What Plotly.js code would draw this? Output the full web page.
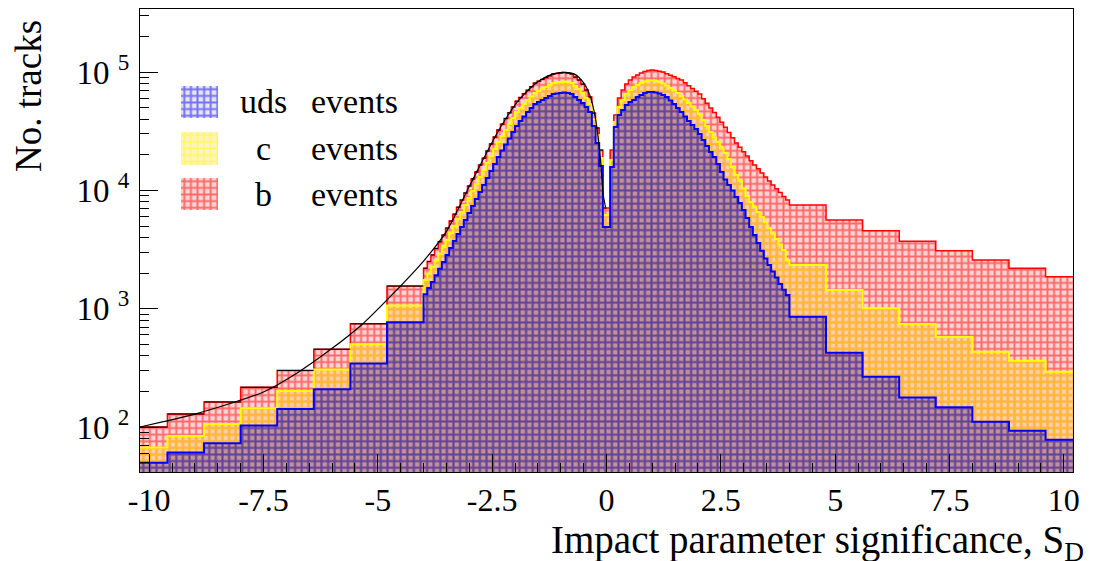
<!DOCTYPE html>
<html><head><meta charset="utf-8">
<script src="https://cdn.plot.ly/plotly-3.0.1.min.js"></script>
<style>html,body{margin:0;padding:0;background:#fff;}#chart{width:1099px;height:561px;}</style>
</head><body><div id="chart"></div>
<script>
// ---- binning (impact parameter significance S_D) ----
const coarseEdgesLeft = [-10.2, -9.6, -8.8, -8.0, -7.2, -6.4, -5.6, -4.8, -4.0];
const fineBinWidth = 0.08;
const fineBinCount = 100;           // fine bins from -4 to 4
const coarseEdgesRight = [4.0, 4.8, 5.6, 6.4, 7.2, 8.0, 8.8, 9.6, 10.2];

// ---- stacked levels (tracks per bin): uds, uds+c, uds+c+b ----
const udsLeft   = [50, 61, 73, 103, 142, 209, 345, 770];
const udsCLeft  = [67, 84, 106, 144, 202, 307, 502, 1066];
const allLeft   = [100, 129, 163, 217, 301, 455, 745, 1553];

const udsFine = [1328,1493,1685,1916,2178,2477,2838,3253,3727,4272,
  4896,5609,6428,7366,8441,9674,11090,12700,14560,16690,
  19120,21700,24390,27410,31110,34960,38530,42050,45910,49630,
  53640,55770,57990,60290,62690,65160,65810,66440,67090,66440,
  65160,61480,57990,54700,50600,45910,34960,25110,16050,4896,
  4896,15740,34290,43300,47730,52600,55770,57990,61480,63900,
  66440,67760,67760,67090,65810,63900,61480,57420,53640,49630,
  45910,42050,38530,35650,32980,29920,26620,23680,21070,19120,
  16750,14280,12340,11090,9960,8775,7810,6815,5833,4896,
  4189,3585,3086,2652,2336,2059,1832,1614,1444,1303];
const udsCFine = [1745,1984,2256,2566,2917,3317,3800,4355,4991,5720,
  6554,7510,8605,9865,11300,12950,14840,17010,19490,22340,
  25600,28770,32340,36340,40860,45910,49630,53640,57990,62080,
  66440,69080,71820,74670,77640,80720,81510,82320,83120,82320,
  80720,76150,71820,66440,60290,53640,40070,29340,18750,6183,
  6183,18040,37780,50600,57990,65160,70440,74670,77640,80720,
  83120,84780,84780,83960,82320,79950,76900,73240,69760,66440,
  62690,58550,54700,51100,47730,44160,39280,34960,31110,27950,
  25600,23000,20670,18390,15740,13470,12100,10450,8950,7964,
  7224,6554,5948,5395,4800,4313,3876,3482,3129,2576];
const allFine = [2200,2510,2850,3230,3680,4190,4800,5500,6300,7220,
  8280,9500,10900,12500,14300,16400,18700,21500,24700,28200,
  32400,36300,40500,45300,50700,56800,61000,65500,70200,75300,
  80800,83700,86600,89700,92900,96200,97200,98100,99000,98100,
  96200,90700,85600,79100,70400,61500,45000,33700,21900,7100,
  7100,21900,43300,60300,70400,79100,85600,90700,94300,98100,
  101000,103000,104000,103000,101500,100000,97000,94000,91100,88300,
  85600,81200,76700,72500,68800,65100,59600,54500,49800,45500,
  41600,37700,34100,30800,27800,25100,23100,21200,19500,17800,
  16400,15200,14000,13000,12000,11100,10300,9600,8900,8280];

const udsRight  = [855, 424, 266, 178, 147, 111, 93, 78];
const udsCRight = [2340, 1436, 1007, 742, 578, 432, 364, 293];
const allRight  = [7520, 5610, 4560, 3725, 3090, 2576, 2200, 1860];

// ---- fit curve on the negative side ----
const fitX = [-10.2, -9.69, -8.96, -8.23, -7.5, -6.78, -6.05, -5.32, -4.59, -4.01, -3.5, -2.99, -2.34, -1.9, -1.46, -1.18, -0.96, -0.70, -0.48, -0.33, -0.22, -0.13, -0.07, -0.02];
const fitY = [100, 111, 130, 158, 198, 284, 447, 751, 1436, 2500, 4500, 11000, 33000, 59000, 85000, 96000, 99500, 96000, 79000, 58000, 36000, 18000, 9100, 7200];

// ---- axis ticks & labels ----
const xTickVals = [-10, -7.5, -5, -2.5, 0, 2.5, 5, 7.5, 10];
const xTickText = ['-10', '-7.5', '-5', '-2.5', '0', '2.5', '5', '7.5', '10'];
const yTickVals = [100, 1000, 10000, 100000];
const yTickText = ['10\u00a0<sup>2</sup>', '10\u00a0<sup>3</sup>', '10\u00a0<sup>4</sup>', '10\u00a0<sup>5</sup>'];
const yMinorVals = [50,60,70,80,90,200,300,400,500,600,700,800,900,2000,3000,4000,5000,6000,7000,8000,9000,
  20000,30000,40000,50000,60000,70000,80000,90000,200000,300000];
const legendLabels = ['uds', 'c', 'b'];
const legendSuffix = 'events';

// ---- build histogram geometry from the binning ----
const edges = coarseEdgesLeft.slice();
for (let k = 1; k <= fineBinCount; k++) edges.push(+(-4 + k * fineBinWidth).toFixed(2));
edges.push(...coarseEdgesRight.slice(1));
const centers = [], widths = [];
for (let i = 0; i < edges.length - 1; i++) { centers.push((edges[i] + edges[i + 1]) / 2); widths.push(edges[i + 1] - edges[i]); }
const uds = udsLeft.concat(udsFine, udsRight);
const udsC = udsCLeft.concat(udsCFine, udsCRight);
const all = allLeft.concat(allFine, allRight);

const FONT = 'Liberation Serif, Times New Roman, serif';
const BLUE = '#0000ff', YEL = '#ffff00', RED = '#ff0000';

function bars(vals, fg, bg, sol, xa, ya, xs, ws) {
  return {type: 'bar', x: xs || centers, y: vals, width: ws || widths, xaxis: xa || 'x', yaxis: ya || 'y',
    marker: {color: bg, line: {width: 0}, pattern: {shape: '+', fgcolor: fg, size: 6.6, solidity: sol, fillmode: 'overlay'}},
    hoverinfo: 'skip', showlegend: false};
}
function steps(vals, color, w) {
  return {type: 'scatter', mode: 'lines', x: edges, y: vals.concat([vals[vals.length - 1]]),
    line: {shape: 'hv', color: color, width: w}, hoverinfo: 'skip', showlegend: false};
}
// black bin tops on the negative side
const topX = [], topY = [];
for (let i = 0; i < centers.length; i++) {
  if (centers[i] < 0) { topX.push(edges[i], edges[i + 1], null); topY.push(all[i], all[i], null); }
}

const RED_BG = 'rgba(255,60,60,0.22)', YEL_BG = 'rgba(255,185,0,0.2)', BLUE_BG = 'rgba(60,25,130,0.33)';
const RED_SOL = 0.5, YEL_SOL = 0.48, BLUE_SOL = 0.5;

const traces = [
  bars(all, RED, RED_BG, RED_SOL), steps(all, RED, 1.5),
  bars(udsC, YEL, YEL_BG, YEL_SOL), steps(udsC, YEL, 2),
  bars(uds, BLUE, BLUE_BG, BLUE_SOL), steps(uds, BLUE, 2),
  {type: 'scatter', mode: 'lines', x: topX, y: topY, line: {color: '#000', width: 1}, hoverinfo: 'skip', showlegend: false},
  {type: 'scatter', mode: 'lines', x: fitX, y: fitY, line: {color: '#000', width: 1.2, shape: 'spline', smoothing: 0.8}, hoverinfo: 'skip', showlegend: false},
  // legend swatches
  bars([1], BLUE, 'rgba(60,25,130,0.12)', BLUE_SOL, 'x2', 'y2', [0.5], [1]),
  bars([1], YEL, YEL_BG, YEL_SOL, 'x2', 'y3', [0.5], [1]),
  bars([1], RED, RED_BG, RED_SOL, 'x2', 'y4', [0.5], [1])
];

// plot frame in pixels: left 140, right 1073, top 9, bottom 472
const px = v => (v - 140) / 933, py = v => (472 - v) / 463;
const hidden = {visible: false, range: [0, 1], fixedrange: true, showgrid: false, zeroline: false};

const annotations = [
  {text: 'No. tracks', textangle: -90, xref: 'paper', yref: 'paper', x: px(28), y: py(96), xanchor: 'center', yanchor: 'middle', showarrow: false, font: {family: FONT, size: 37, color: '#000'}},
  {text: 'Impact parameter significance, S<sub>D</sub>', xref: 'paper', yref: 'paper', x: px(1086), y: py(542), xanchor: 'right', yanchor: 'middle', showarrow: false, font: {family: FONT, size: 39, color: '#000'}}
];
const legendRows = [102, 148, 194];
legendLabels.forEach((lab, k) => {
  annotations.push({text: lab, xref: 'paper', yref: 'paper', x: px(263), y: py(legendRows[k]), xanchor: 'center', yanchor: 'middle', showarrow: false, font: {family: FONT, size: 34, color: '#000'}});
  annotations.push({text: legendSuffix, xref: 'paper', yref: 'paper', x: px(309), y: py(legendRows[k]), xanchor: 'left', yanchor: 'middle', showarrow: false, font: {family: FONT, size: 34, color: '#000'}});
});

const layout = {
  width: 1099, height: 561,
  margin: {l: 140, r: 26, t: 9, b: 89, pad: 0},
  paper_bgcolor: '#fff', plot_bgcolor: '#fff',
  barmode: 'overlay', bargap: 0, showlegend: false,
  xaxis: {range: [-10.2, 10.2], tickmode: 'array', tickvals: xTickVals, ticktext: xTickText,
    ticks: 'inside', ticklen: 18, tickwidth: 1, tickcolor: '#000',
    minor: {ticks: 'inside', ticklen: 9, tickwidth: 1, tickcolor: '#000', dtick: 0.5, tick0: 0, showgrid: false},
    showline: true, mirror: true, linecolor: '#000', linewidth: 1, showgrid: false, zeroline: false,
    tickfont: {family: FONT, size: 32, color: '#000'}, ticklabelstandoff: 0, automargin: false, fixedrange: true},
  yaxis: {type: 'log', range: [1.62, 5.533], tickmode: 'array', tickvals: yTickVals, ticktext: yTickText,
    ticks: 'inside', ticklen: 18, tickwidth: 1, tickcolor: '#000',
    minor: {ticks: 'inside', ticklen: 9, tickwidth: 1, tickcolor: '#000', tickmode: 'array', tickvals: yMinorVals, showgrid: false},
    showline: true, mirror: true, linecolor: '#000', linewidth: 1, showgrid: false, zeroline: false,
    tickfont: {family: FONT, size: 33, color: '#000'}, ticklabelstandoff: 3, automargin: false, fixedrange: true},
  xaxis2: Object.assign({domain: [px(181), px(218)], anchor: 'y2'}, hidden),
  yaxis2: Object.assign({domain: [py(118), py(86)], anchor: 'x2'}, hidden),
  yaxis3: Object.assign({domain: [py(165), py(132)], anchor: 'x2'}, hidden),
  yaxis4: Object.assign({domain: [py(210), py(178)], anchor: 'x2'}, hidden),
  annotations: annotations
};

Plotly.newPlot('chart', traces, layout, {staticPlot: true, displayModeBar: false});
</script></body></html>
